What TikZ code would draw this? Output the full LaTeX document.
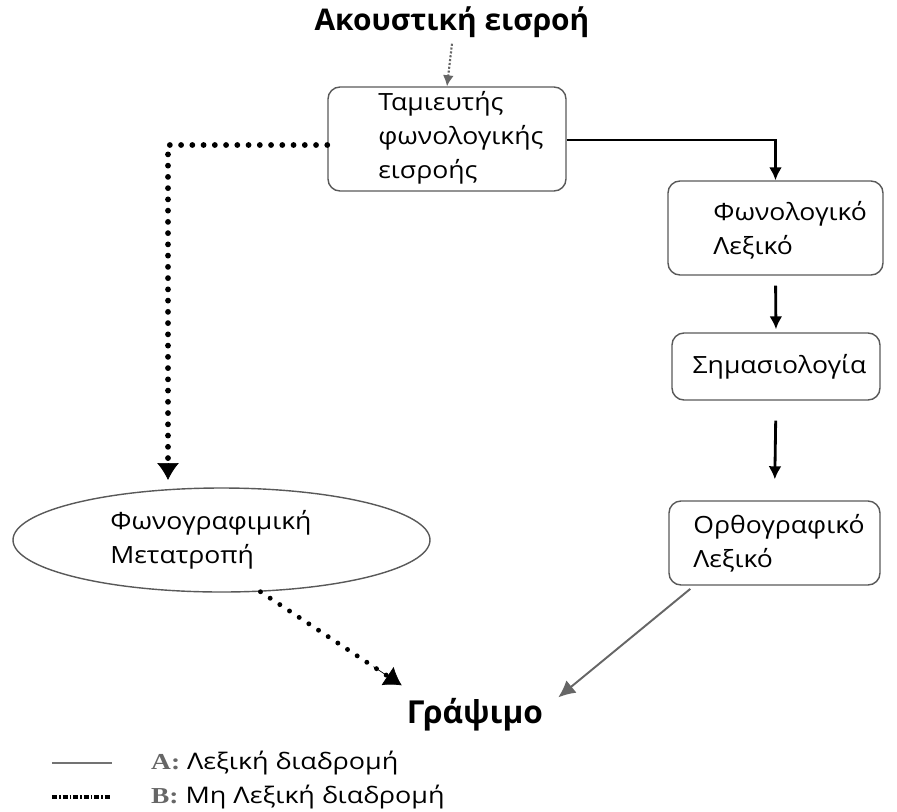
\documentclass[tikz,border=0pt]{standalone}
\usepackage{fontspec}
\setmainfont{Open Sans}
\newfontfamily\widesans{Open Sans}[FakeStretch=1.12]
\newfontfamily\legsans{Open Sans}[FakeStretch=1.18]
\newfontfamily\legserif{Liberation Serif}[FakeStretch=1.2]
\usetikzlibrary{arrows.meta,shapes.geometric,calc}

\begin{document}
\begin{tikzpicture}[
  stage/.style={draw=black!65,line width=0.8pt,rounded corners=0.24cm},
  boxtext/.style={align=left,font=\widesans\fontsize{13.5}{19.5}\selectfont,inner sep=0pt},
  heading/.style={font=\fontsize{17}{20}\selectfont\bfseries},
  flow/.style={line width=1.6pt,-{Latex[length=2.6mm,width=2.6mm]}},
  lexical/.style={draw=black!60,line width=1.1pt,-{Latex[length=3.4mm,width=3.2mm]}},
  bigdots/.style={line width=3.3pt,line cap=round,dash pattern=on 0pt off 6.4pt},
  smalldots/.style={line width=2.8pt,line cap=round,dash pattern=on 0pt off 6.6pt},
  tip/.style={-{Latex[length=3.4mm,width=4.4mm]}}]
\useasboundingbox (0,0) rectangle (17.94,-16.24);

\node[heading] (src) at (9.04,-0.44) {Ακουστική εισροή};

\node[stage,minimum width=4.76cm,minimum height=2.08cm] (b1) at (8.94,-2.78) {};
\node[boxtext,anchor=west] (t1) at (7.56,-2.76) {Ταμιευτής\\φωνολογικής\\εισροής};

\node[stage,minimum width=4.30cm,minimum height=1.88cm] (b2) at (15.51,-4.56) {};
\node[boxtext,anchor=west] (t2) at (14.26,-4.6) {Φωνολογικό\\Λεξικό};

\node[stage,minimum width=4.16cm,minimum height=1.34cm] (b3) at (15.52,-7.33) {};
\node[boxtext] (t3) at (15.59,-7.34) {Σημασιολογία};

\node[stage,minimum width=4.22cm,minimum height=1.68cm] (b4) at (15.49,-10.86) {};
\node[boxtext,anchor=west] (t4) at (13.86,-10.86) {Ορθογραφικό\\Λεξικό};

\node[draw=black!65,line width=0.8pt,ellipse,minimum width=8.34cm,minimum height=2.08cm] (ell) at (4.43,-10.8) {};
\node[boxtext,anchor=west] (t5) at (2.2,-10.8) {Φωνογραφιμική\\Μετατροπή};

\node[heading,font=\fontsize{18}{20}\selectfont\bfseries] (gr) at (9.5,-14.3) {Γράψιμο};

\draw[black!60,line width=1.2pt,densely dotted,-{Latex[length=2.2mm,width=2.2mm]}] (src.south) -- (b1.north);
\draw[flow] (b1.east |- 0,-2.8) -| (b2.north);
\draw[flow,shorten <=0.2cm,shorten >=0.06cm] (b2.south) -- (b3.north);
\draw[flow,shorten <=0.4cm,shorten >=0.42cm] (b3.south) -- (b4.north);
\draw[lexical,shorten <=0.1cm] (b4.-152) -- ([xshift=0.18cm,yshift=-0.1cm]gr.north east);

\coordinate (bend) at (3.36,-2.9);
\coordinate (elltop) at (3.36,-9.6);
\draw[bigdots] (b1.west |- bend) -- (bend) -- (elltop);
\draw[tip] (3.36,-9.3) -- (elltop);
\coordinate (grin) at ([xshift=0.02cm,yshift=0.14cm]gr.north west);
\draw[smalldots] (ell.-53) -- (grin);
\draw[tip] ($(ell.-53)!0.8!(grin)$) -- (grin);

\coordinate (la) at (1.04,-15.26);
\coordinate (lb) at (2.24,-15.26);
\coordinate (lc) at (1.04,-15.94);
\coordinate (ld) at (2.2,-15.94);
\draw[black!55,line width=1.3pt] (la) -- (lb);
\draw[line width=1.8pt,dash pattern=on 3pt off 1pt on 1pt off 1pt] (lc) -- (ld);
\node[anchor=west,font=\legsans\fontsize{13}{14}\selectfont] (lega) at (2.9,-15.26) {{\legserif\bfseries\color{black!60}A:}\ Λεξική διαδρομή};
\node[anchor=west,font=\legsans\fontsize{13}{14}\selectfont] (legb) at (2.9,-15.94) {{\legserif\bfseries\color{black!60}B:}\ Μη Λεξική διαδρομή};
\end{tikzpicture}
\end{document}
